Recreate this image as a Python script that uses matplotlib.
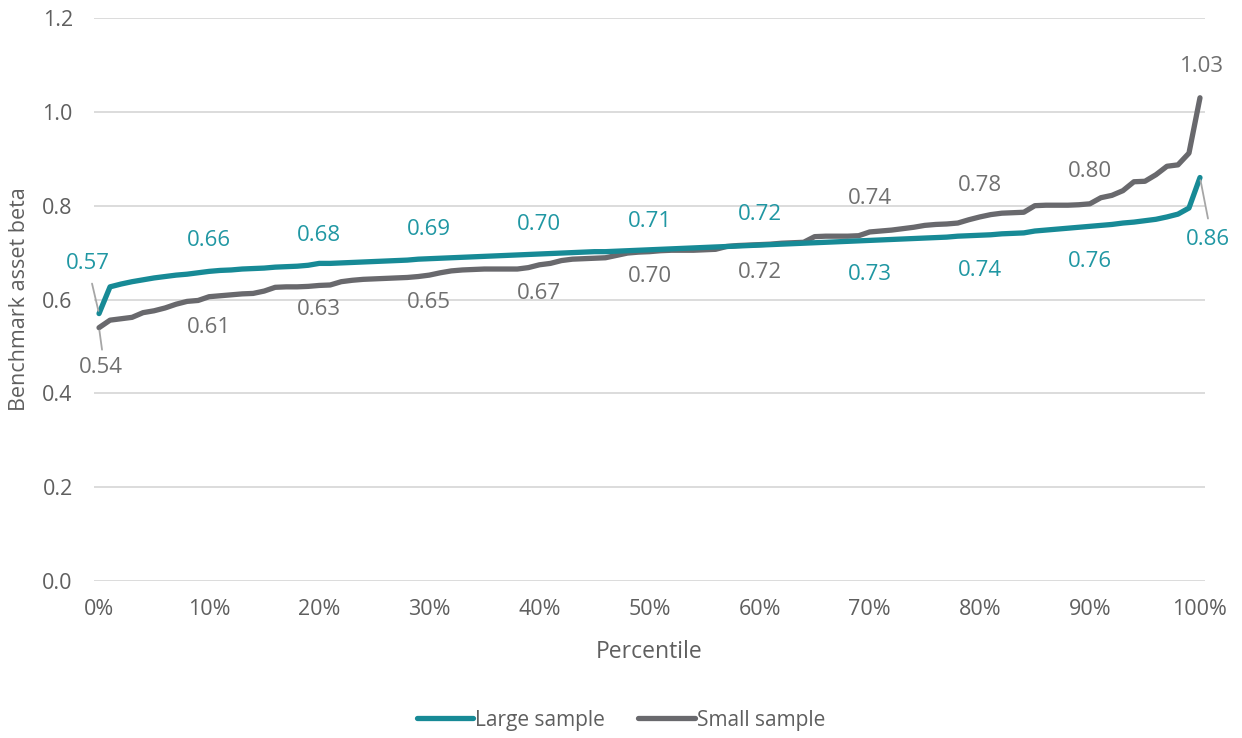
import matplotlib
matplotlib.use("Agg")
import matplotlib.pyplot as plt
from matplotlib.ticker import FixedLocator, FuncFormatter

plt.rcParams['font.family'] = ['Open Sans', 'DejaVu Sans']

percentiles = list(range(0, 101))

large_sample = [
    0.570, 0.627, 0.633, 0.638, 0.642, 0.646, 0.649, 0.652, 0.654, 0.657,
    0.660, 0.662, 0.663, 0.665, 0.666, 0.667, 0.669, 0.670, 0.671, 0.673,
    0.677, 0.677, 0.678, 0.679, 0.680, 0.681, 0.682, 0.683, 0.684, 0.686,
    0.687, 0.688, 0.689, 0.690, 0.691, 0.692, 0.693, 0.694, 0.695, 0.696,
    0.697, 0.698, 0.699, 0.700, 0.701, 0.702, 0.702, 0.703, 0.704, 0.705,
    0.706, 0.707, 0.708, 0.709, 0.710, 0.711, 0.712, 0.713, 0.714, 0.715,
    0.716, 0.717, 0.718, 0.719, 0.720, 0.721, 0.722, 0.723, 0.724, 0.725,
    0.726, 0.727, 0.728, 0.729, 0.730, 0.731, 0.732, 0.733, 0.735, 0.736,
    0.737, 0.738, 0.740, 0.741, 0.742, 0.746, 0.748, 0.750, 0.752, 0.754,
    0.756, 0.758, 0.760, 0.763, 0.765, 0.768, 0.771, 0.776, 0.782, 0.795,
    0.860,
]

small_sample = [
    0.540, 0.556, 0.559, 0.562, 0.572, 0.576, 0.582, 0.590, 0.596, 0.598,
    0.606, 0.608, 0.610, 0.612, 0.613, 0.618, 0.626, 0.627, 0.627, 0.628,
    0.630, 0.631, 0.638, 0.641, 0.643, 0.644, 0.645, 0.646, 0.647, 0.649,
    0.652, 0.657, 0.661, 0.663, 0.664, 0.665, 0.665, 0.665, 0.665, 0.668,
    0.674, 0.677, 0.683, 0.686, 0.687, 0.688, 0.689, 0.694, 0.699, 0.701,
    0.702, 0.704, 0.705, 0.705, 0.705, 0.706, 0.707, 0.713, 0.715, 0.716,
    0.717, 0.718, 0.720, 0.721, 0.722, 0.734, 0.735, 0.735, 0.735, 0.736,
    0.744, 0.746, 0.748, 0.751, 0.754, 0.758, 0.760, 0.761, 0.763, 0.770,
    0.776, 0.781, 0.784, 0.785, 0.786, 0.800, 0.801, 0.801, 0.801, 0.802,
    0.804, 0.817, 0.822, 0.832, 0.851, 0.852, 0.866, 0.884, 0.887, 0.912,
    1.030,
]

labelled = list(range(0, 101, 10))
x_tick_labels = [f"{p}%" for p in labelled]
y_ticks = [0.0, 0.2, 0.4, 0.6, 0.8, 1.0, 1.2]

TEAL = "#178a96"
TEAL_TEXT = "#2097a3"
GREY = "#69696d"
GREY_TEXT = "#707070"
AXIS_TEXT = "#5f5f5f"
GRID = "#d9d9d9"

fig = plt.figure(figsize=(12.42, 7.38), dpi=100)
ax = fig.add_axes([0.0753, 0.2127, 0.8953, 0.7629])

ax.plot(percentiles, large_sample, color=TEAL, lw=3.8, solid_capstyle="round",
        solid_joinstyle="round", label="Large sample", zorder=3)
ax.plot(percentiles, small_sample, color=GREY, lw=3.8, solid_capstyle="round",
        solid_joinstyle="round", label="Small sample", zorder=2)

ax.set_xlim(-0.5, 100.5)
ax.set_ylim(0, 1.2)
ax.yaxis.set_major_locator(FixedLocator(y_ticks))
ax.yaxis.set_major_formatter(FuncFormatter(lambda v, _: f"{v:.1f}"))
ax.set_xticks(labelled)
ax.set_xticklabels(x_tick_labels)
ax.grid(axis="y", color=GRID, lw=1.3)
ax.set_axisbelow(True)
for s in ax.spines.values():
    s.set_visible(False)
ax.tick_params(length=0, labelsize=15.5, colors=AXIS_TEXT)
ax.tick_params(axis="x", pad=13)
ax.tick_params(axis="y", pad=15)

ax.set_xlabel("Percentile", fontsize=16.5, color=AXIS_TEXT)
ax.set_ylabel("Benchmark asset beta", fontsize=15.5, color=AXIS_TEXT)
ax.xaxis.set_label_coords(0.5, -0.105)
ax.yaxis.set_label_coords(-0.057, 0.5)

# Data labels every 10 percentiles: offsets in pixels (dx, dy)
large_offsets = {0: (-11, 50), 10: (0, 31), 20: (0, 28), 30: (0, 29), 40: (0, 30),
                 50: (0, 28), 60: (0, 31), 70: (0, -34), 80: (0, -35),
                 90: (0, -35), 100: (8, -62)}
small_offsets = {0: (2, -40), 10: (0, -31), 20: (0, -24), 30: (0, -27), 40: (0, -29),
                 50: (0, -25), 60: (0, -28), 70: (0, 33), 80: (0, 31),
                 90: (0, 32), 100: (2, 31)}

for p in labelled:
    dx, dy = large_offsets[p]
    ax.annotate(f"{large_sample[p]:.2f}", (p, large_sample[p]),
                xytext=(dx, dy), textcoords="offset pixels",
                ha="center", va="center", fontsize=16, color=TEAL_TEXT, zorder=5)
    dx, dy = small_offsets[p]
    ax.annotate(f"{small_sample[p]:.2f}", (p, small_sample[p]),
                xytext=(dx, dy), textcoords="offset pixels",
                ha="center", va="center", fontsize=16, color=GREY_TEXT, zorder=5)

# Leader lines for the end-point labels
leader = dict(arrowstyle="-", color="#a6a6a6", lw=1.3, shrinkA=0, shrinkB=2)
ax.annotate("", (0, large_sample[0]), xytext=(-7, 30), textcoords="offset pixels",
            arrowprops=leader)
ax.annotate("", (0, small_sample[0]), xytext=(3, -22), textcoords="offset pixels",
            arrowprops=leader)
ax.annotate("", (100, large_sample[100]), xytext=(8, -41), textcoords="offset pixels",
            arrowprops=leader)

leg = fig.legend(loc="center", bbox_to_anchor=(0.5, 0.024), ncol=2, frameon=False,
                 fontsize=15, handlelength=2.7, handletextpad=0.1, columnspacing=1.6)
for t in leg.get_texts():
    t.set_color(AXIS_TEXT)

fig.savefig("out.png", dpi=100)
